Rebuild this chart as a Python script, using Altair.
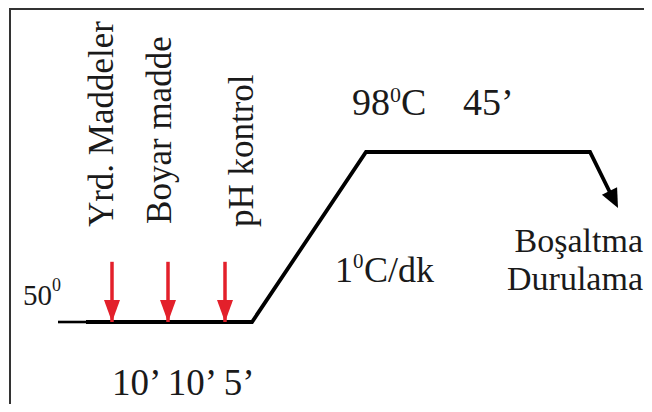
import altair as alt
import pandas as pd

# ---- data (schematic diagram units on x, temperature in degC on y) ----
profile_x = [78, 244, 358, 582, 603]
profile_t = [50, 50, 98, 98, 86]
lead_x = [50, 80]
lead_t = [50, 50]

dose_labels = ["Yrd. Maddeler", "Boyar madde", "pH kontrol"]
dose_x = [104, 160, 217]
dose_top_t = [67, 67, 67]
dose_t = [50, 50, 50]

drain_tip_x = [610]
drain_tip_t = [82.2]

hold_times = "10\u2019 10\u2019 5\u2019"
top_temp = "98"
top_time = "45\u2019"
rate_label = "1"
rate_unit = "C/dk"
start_temp = "50"
end_labels = ["Bo\u015faltma", "Durulama"]

X_DOM = [0, 636]
T_DOM = [26.85, 138.66]
FONT = "Liberation Serif"

xs = alt.Scale(domain=X_DOM, nice=False, zero=False)
ys = alt.Scale(domain=T_DOM, nice=False, zero=False)


def X(f="x"):
    return alt.X(f"{f}:Q", scale=xs, axis=None)


def Y(f="t"):
    return alt.Y(f"{f}:Q", scale=ys, axis=None)


# frame (left and top edges only)
frame_left = alt.Chart(pd.DataFrame({"x": [2], "t": [T_DOM[0]], "t2": [T_DOM[1]]})).mark_rule(
    color="#333333", strokeWidth=2
).encode(x=X(), y=Y(), y2="t2:Q")
frame_top = alt.Chart(pd.DataFrame({"x": [2], "x2": [X_DOM[1]], "t": [138.4]})).mark_rule(
    color="#333333", strokeWidth=2
).encode(x=X(), x2="x2:Q", y=Y())

prof_df = pd.DataFrame({"x": profile_x, "t": profile_t, "o": range(len(profile_x))})
profile = alt.Chart(prof_df).mark_line(
    color="black", strokeWidth=3.8, strokeJoin="miter", strokeCap="butt"
).encode(x=X(), y=Y(), order="o:O")

lead = alt.Chart(pd.DataFrame({"x": lead_x, "t": lead_t})).mark_line(
    color="black", strokeWidth=2.6
).encode(x=X(), y=Y())

dose_df = pd.DataFrame({"x": dose_x, "t": dose_t, "t2": dose_top_t, "label": dose_labels})
shafts = alt.Chart(dose_df).mark_rule(color="#e3202b", strokeWidth=3.5).encode(
    x=X(), y=Y("t2"), y2=alt.Y2("t:Q")
)
heads = alt.Chart(dose_df).mark_point(
    shape="M0,0 L-0.8,-2.2 L0.8,-2.2 Z", size=400, filled=True, color="#e3202b", opacity=1
).encode(x=X(), y=Y())

drain_head = alt.Chart(pd.DataFrame({"x": drain_tip_x, "t": drain_tip_t})).mark_point(
    shape="M0,0 L-0.85,-1.9 L0.85,-1.9 Z", size=400, filled=True, color="black", opacity=1,
    angle=333.4
).encode(x=X(), y=Y())

# rotated dosing labels
lab_df = pd.DataFrame({"x": [105, 163, 245], "t": [76.8, 77.7, 76.8], "label": dose_labels})
dose_text = alt.Chart(lab_df).mark_text(
    angle=270, align="left", baseline="alphabetic", font=FONT, fontSize=35, color="#1a1a1a"
).encode(x=X(), y=Y(), text="label:N")


def txt(x, t, s, size, align="left"):
    return alt.Chart(pd.DataFrame({"x": [x], "t": [t], "s": [s]})).mark_text(
        align=align, baseline="alphabetic", font=FONT, fontSize=size, color="#1a1a1a"
    ).encode(x=X(), y=Y(), text="s:N")


texts = [
    txt(15, 54.8, start_temp, 29),
    txt(44, 58.8, "0", 18),
    txt(104, 29.4, hold_times, 37),
    txt(344, 108.45, top_temp, 38),
    txt(382, 112.1, "0", 22),
    txt(393, 108.45, "C", 38),
    txt(455, 108.45, top_time, 38),
    txt(327, 61.3, rate_label, 36),
    txt(345, 65.25, "0", 21),
    txt(356, 61.3, rate_unit, 36),
    txt(635, 69.9, end_labels[0], 34, "right"),
    txt(635, 59.0, end_labels[1], 34, "right"),
]

chart = alt.layer(
    frame_left, frame_top, lead, profile, drain_head, shafts, heads, dose_text, *texts
).properties(
    width=636, height=396, padding=0,
    autosize=alt.AutoSizeParams(type="none"),
).configure_view(stroke=None)

chart.save("out.html", embed_options={"renderer": "svg", "actions": False})
